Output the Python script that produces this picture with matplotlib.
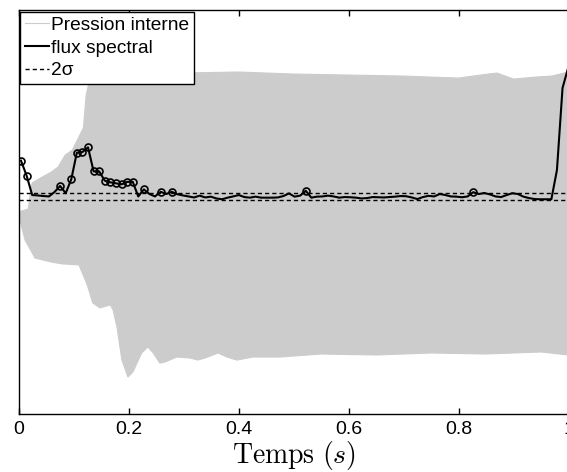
import numpy as np
import matplotlib
matplotlib.use("Agg")
import matplotlib.pyplot as plt
from matplotlib.ticker import FuncFormatter

plt.rcParams['font.family'] = ['Liberation Sans', 'DejaVu Sans']
plt.rcParams['mathtext.fontset'] = 'cm'

# Enveloppe de la pression interne (unités normalisées)
t_env_haut = [0.0, 0.018, 0.022, 0.025, 0.040, 0.060, 0.072, 0.085, 0.098, 0.107,
              0.118, 0.123, 0.130, 0.140, 0.200, 0.300, 0.400, 0.500, 0.600, 0.700,
              0.800, 0.840, 0.870, 0.900, 0.940, 0.970, 1.000]
env_haut = [0.000, 0.015, 0.109, 0.144, 0.168, 0.198, 0.223, 0.282, 0.307, 0.356,
            0.416, 0.579, 0.663, 0.688, 0.693, 0.688, 0.693, 0.683, 0.678, 0.673,
            0.663, 0.678, 0.688, 0.658, 0.668, 0.673, 0.693]

t_env_bas = [0.0, 0.012, 0.030, 0.060, 0.080, 0.110, 0.125, 0.135, 0.148, 0.167,
             0.172, 0.179, 0.188, 0.199, 0.208, 0.224, 0.235, 0.245, 0.257, 0.266,
             0.288, 0.312, 0.326, 0.339, 0.363, 0.379, 0.397, 0.426, 0.476, 0.550,
             0.650, 0.750, 0.850, 0.950, 1.000]
env_bas = [-0.015, -0.139, -0.228, -0.248, -0.257, -0.262, -0.361, -0.450, -0.475, -0.460,
           -0.485, -0.569, -0.733, -0.817, -0.792, -0.698, -0.668, -0.698, -0.748, -0.743,
           -0.718, -0.723, -0.733, -0.723, -0.698, -0.718, -0.733, -0.718, -0.718, -0.703,
           -0.708, -0.698, -0.703, -0.693, -0.708]

# Flux spectral, une valeur par trame
t0_trame = 0.0046
pas_trame = 0.01015
flux = [0.254, 0.180, 0.084, 0.082, 0.079, 0.077, 0.099, 0.129, 0.093, 0.162,
        0.294, 0.297, 0.320, 0.201, 0.201, 0.155, 0.147, 0.142, 0.137, 0.149,
        0.150, 0.077, 0.112, 0.089, 0.077, 0.100, 0.089, 0.100, 0.088, 0.082,
        0.077, 0.072, 0.081, 0.072, 0.076, 0.067, 0.063, 0.071, 0.077, 0.084,
        0.074, 0.071, 0.076, 0.071, 0.071, 0.071, 0.072, 0.079, 0.092, 0.076,
        0.081, 0.105, 0.071, 0.076, 0.077, 0.081, 0.077, 0.071, 0.074, 0.073,
        0.071, 0.067, 0.069, 0.074, 0.073, 0.072, 0.074, 0.076, 0.079, 0.078,
        0.072, 0.064, 0.074, 0.080, 0.077, 0.089, 0.084, 0.077, 0.076, 0.073,
        0.077, 0.098, 0.089, 0.094, 0.087, 0.077, 0.074, 0.084, 0.093, 0.089,
        0.076, 0.069, 0.064, 0.063, 0.063, 0.063, 0.208, 0.614, 0.713]

# Trames détectées au-dessus du seuil
onsets = [0, 1, 7, 9, 10, 11, 12, 13, 14, 15, 16, 17, 18, 19, 20, 22, 25, 27, 51, 81]

# Seuils (2 sigma)
seuil_haut = 0.0955
seuil_bas = 0.0594

t_flux = t0_trame + pas_trame * np.arange(len(flux))
flux = np.asarray(flux)

W, H = 567, 472
fig = plt.figure(figsize=(W / 100, H / 100), dpi=100)
ax = fig.add_axes([18.5 / W, 1 - 414 / H, 550 / W, 404 / H])

gris = '#cccccc'
poly_t = np.concatenate([t_env_haut, t_env_bas[::-1]])
poly_v = np.concatenate([env_haut, env_bas[::-1]])
ax.fill(poly_t, poly_v, color=gris, lw=0, zorder=1)
ax.plot(t_env_haut, env_haut, color=gris, lw=0.8, zorder=1, label='Pression interne')
ax.plot(t_env_bas, env_bas, color=gris, lw=0.8, zorder=1)

ax.plot(t_flux, flux, color='black', lw=1.5, zorder=4, label='flux spectral')
ax.plot(t_flux[onsets], flux[onsets], linestyle='none', marker='o', ms=5.0,
        mfc='none', mec='black', mew=1.2, zorder=5)

ax.axhline(seuil_haut, color='black', lw=1.0, dashes=(3.0, 2.2), zorder=3, label='2σ')
ax.axhline(seuil_bas, color='black', lw=1.0, dashes=(3.0, 2.2), zorder=3)

ax.set_xlim(0, 1)
ax.set_ylim(-1, 1)
ax.set_xticks([0, 0.2, 0.4, 0.6, 0.8, 1.0])
ax.xaxis.set_major_formatter(FuncFormatter(lambda v, p: '%g' % v))
ax.tick_params(axis='x', direction='in', length=4.5, width=1.0, top=True,
               labelsize=14, pad=5)
ax.tick_params(axis='y', left=False, labelleft=False)
for s in ax.spines.values():
    s.set_linewidth(1.0)

ax.set_xlabel(r'$\mathrm{Temps}\ (s)$', fontsize=20, labelpad=1)

leg = ax.legend(loc='upper left', fontsize=13.8, frameon=True, fancybox=False,
                edgecolor='black', framealpha=1, borderpad=0.25, labelspacing=0.28,
                handlelength=1.25, handletextpad=0.1, borderaxespad=0.08)
leg.get_frame().set_linewidth(1.0)

fig.savefig('out.png', dpi=100)
